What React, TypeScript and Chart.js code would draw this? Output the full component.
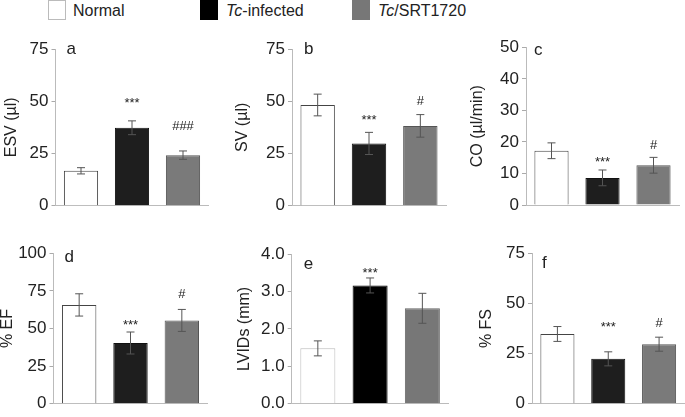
import React, { useEffect, useRef } from "react";
import { Chart, registerables } from "chart.js";
Chart.register(...registerables);

const groups = ["Normal", "Tc-infected", "Tc/SRT1720"];

const esvMean = [16.7, 37.3, 24.2];
const esvErr = [1.5, 3.3, 2.0];
const esvSig = ["", "***", "###"];
const esvSigAt = [0, 50.3, 38];

const svMean = [48.2, 29.8, 38.2];
const svErr = [5.2, 5.3, 5.4];
const svSig = ["", "***", "#"];
const svSigAt = [0, 42.2, 50];

const coMean = [17.2, 8.6, 12.6];
const coErr = [2.5, 2.5, 2.5];
const coSig = ["", "***", "#"];
const coSigAt = [0, 14.5, 19];

const efMean = [65.7, 40.4, 55.4];
const efErr = [7.4, 7.3, 7.3];
const efSig = ["", "***", "#"];
const efSigAt = [0, 53.9, 72.9];

const lvMean = [1.48, 3.16, 2.55];
const lvErr = [0.2, 0.2, 0.4];
const lvSig = ["", "***", ""];
const lvSigAt = [0, 3.57, 0];

const fsMean = [34.8, 22.4, 29.7];
const fsErr = [3.7, 3.5, 3.5];
const fsSig = ["", "***", "#"];
const fsSigAt = [0, 39.7, 40];

const FONT = "'Liberation Sans', Arial, Helvetica, sans-serif";

type Panel = {
  letter: string;
  title: string;
  mean: number[];
  err: number[];
  sig: string[];
  sigAt: number[];
  max: number;
  step: number;
  decimals: number;
  canvas: [number, number, number, number];
  area: [number, number, number, number];
  titleX: number;
  letterDx: number;
  letterDy: number;
  fills: string[];
  borders: string[];
};

const darkFills = ["#ffffff", "#1e1e1e", "#7a7a7a"];
const darkBorders = ["#444444", "#111111", "#555555"];

const panels: Panel[] = [
  { letter: "a", title: "ESV (\u00b5l)", mean: esvMean, err: esvErr, sig: esvSig, sigAt: esvSigAt, max: 75, step: 25, decimals: 0,
    canvas: [0, 30, 228, 190], area: [55.5, 49, 208.5, 205.7], titleX: 12, letterDx: 11, letterDy: 0, fills: darkFills, borders: darkBorders },
  { letter: "b", title: "SV (\u00b5l)", mean: svMean, err: svErr, sig: svSig, sigAt: svSigAt, max: 75, step: 25, decimals: 0,
    canvas: [228, 30, 227, 190], area: [292, 49, 446, 205.7], titleX: 243, letterDx: 12, letterDy: 0, fills: darkFills, borders: darkBorders },
  { letter: "c", title: "CO (\u00b5l/min)", mean: coMean, err: coErr, sig: coSig, sigAt: coSigAt, max: 50, step: 10, decimals: 0,
    canvas: [455, 30, 230, 190], area: [526, 47.3, 679, 205], titleX: 478, letterDx: 8, letterDy: 3, fills: darkFills, borders: darkBorders },
  { letter: "d", title: "% EF", mean: efMean, err: efErr, sig: efSig, sigAt: efSigAt, max: 100, step: 25, decimals: 0,
    canvas: [0, 225, 228, 192], area: [53.5, 253.3, 207.5, 411], titleX: 8, letterDx: 11, letterDy: 4, fills: darkFills, borders: darkBorders },
  { letter: "e", title: "LVIDs (mm)", mean: lvMean, err: lvErr, sig: lvSig, sigAt: lvSigAt, max: 4, step: 1, decimals: 1,
    canvas: [228, 225, 227, 192], area: [291.7, 254, 448.5, 411], titleX: 245, letterDx: 12, letterDy: 10,
    fills: ["#ffffff", "#000000", "#777777"], borders: ["#bbbbbb", "#000000", "#666666"] },
  { letter: "f", title: "% FS", mean: fsMean, err: fsErr, sig: fsSig, sigAt: fsSigAt, max: 75, step: 25, decimals: 0,
    canvas: [455, 225, 230, 192], area: [532, 253.3, 684.5, 411], titleX: 487, letterDx: 10, letterDy: 10, fills: darkFills, borders: darkBorders },
];

function PanelChart({ p }: { p: Panel }) {
  const ref = useRef<HTMLCanvasElement>(null);
  useEffect(() => {
    const [cl, ct, cw, ch] = p.canvas;
    const [al, at, ar, ab] = p.area;
    const yw = al - cl;
    const xh = ct + ch - ab;
    const annot = {
      id: "annot" + p.letter,
      afterDatasetsDraw(chart: any) {
        const ctx = chart.ctx;
        const ys = chart.scales.y;
        const meta = chart.getDatasetMeta(0);
        ctx.save();
        ctx.strokeStyle = "#555555";
        ctx.lineWidth = 1;
        meta.data.forEach((bar: any, i: number) => {
          const x = bar.x;
          const yTop = ys.getPixelForValue(p.mean[i] + p.err[i]);
          const yBot = ys.getPixelForValue(p.mean[i] - p.err[i]);
          ctx.beginPath();
          ctx.moveTo(x, yTop);
          ctx.lineTo(x, yBot);
          ctx.moveTo(x - 4, yTop);
          ctx.lineTo(x + 4, yTop);
          ctx.moveTo(x - 4, yBot);
          ctx.lineTo(x + 4, yBot);
          ctx.stroke();
          if (p.sig[i]) {
            ctx.fillStyle = "#222222";
            ctx.font = `13px ${FONT}`;
            ctx.textAlign = "center";
            ctx.textBaseline = "middle";
            const isStar = p.sig[i].indexOf("*") >= 0;
            ctx.fillText(p.sig[i], x, ys.getPixelForValue(p.sigAt[i]) + (isStar ? 3 : 0));
          }
        });
        ctx.fillStyle = "#222222";
        ctx.font = `17px ${FONT}`;
        ctx.textAlign = "left";
        ctx.textBaseline = "middle";
        ctx.fillText(p.letter, chart.chartArea.left + p.letterDx, chart.chartArea.top + p.letterDy);
        ctx.restore();
      },
    };
    const chart = new Chart(ref.current as HTMLCanvasElement, {
      type: "bar",
      data: {
        labels: groups,
        datasets: [
          {
            data: p.mean,
            backgroundColor: p.fills,
            borderColor: p.borders,
            borderWidth: 1,
            barPercentage: 0.67,
            categoryPercentage: 1,
          },
        ],
      },
      options: {
        responsive: false,
        animation: false,
        events: [],
        layout: { padding: { left: 0, top: at - ct, right: cl + cw - ar, bottom: 0 } },
        plugins: { legend: { display: false }, tooltip: { enabled: false } },
        scales: {
          x: {
            grid: { display: false },
            ticks: { display: false },
            border: { color: "#bbbbbb", width: 1 },
            afterFit: (s: any) => { s.height = xh; },
          },
          y: {
            min: 0,
            max: p.max,
            ticks: {
              stepSize: p.step,
              color: "#222222",
              font: { family: FONT, size: 17 },
              padding: 3,
              callback: (v: any) => Number(v).toFixed(p.decimals),
            },
            grid: { drawOnChartArea: false, tickLength: 4, color: "#aaaaaa" },
            border: { color: "#bbbbbb", width: 1 },
            title: {
              display: true,
              text: p.title,
              color: "#222222",
              font: { family: FONT, size: 16 },
              padding: { top: p.titleX - cl - 9.6, bottom: 0 },
            },
            afterFit: (s: any) => { s.width = yw; },
          },
        },
      },
      plugins: [annot],
    } as any);
    return () => chart.destroy();
  }, [p]);
  const [cl, ct, cw, ch] = p.canvas;
  return (
    <div style={{ position: "absolute", left: cl, top: ct, width: cw, height: ch }}>
      <canvas ref={ref} width={cw} height={ch} style={{ display: "block" }} />
    </div>
  );
}

const legendItems = [
  { fill: "#ffffff", border: "#bbbbbb", x: 48, textX: 73, label: <>Normal</> },
  { fill: "#000000", border: "#000000", x: 200, textX: 226, label: <><i>Tc</i>-infected</> },
  { fill: "#777777", border: "#777777", x: 352, textX: 378, label: <><i>Tc</i>/SRT1720</> },
];

export default function App() {
  return (
    <div style={{ position: "absolute", left: 0, top: 0, width: 685, height: 417, background: "#ffffff", overflow: "hidden", fontFamily: FONT }}>
      {legendItems.map((it, i) => (
        <React.Fragment key={i}>
          <div style={{ position: "absolute", left: it.x, top: 0, width: 16, height: 18, background: it.fill, border: `1px solid ${it.border}`, boxSizing: "content-box" }} />
          <div style={{ position: "absolute", left: it.textX, top: 1, fontSize: 16, lineHeight: "20px", color: "#222222", whiteSpace: "nowrap" }}>{it.label}</div>
        </React.Fragment>
      ))}
      {panels.map((p) => (
        <PanelChart key={p.letter} p={p} />
      ))}
    </div>
  );
}
